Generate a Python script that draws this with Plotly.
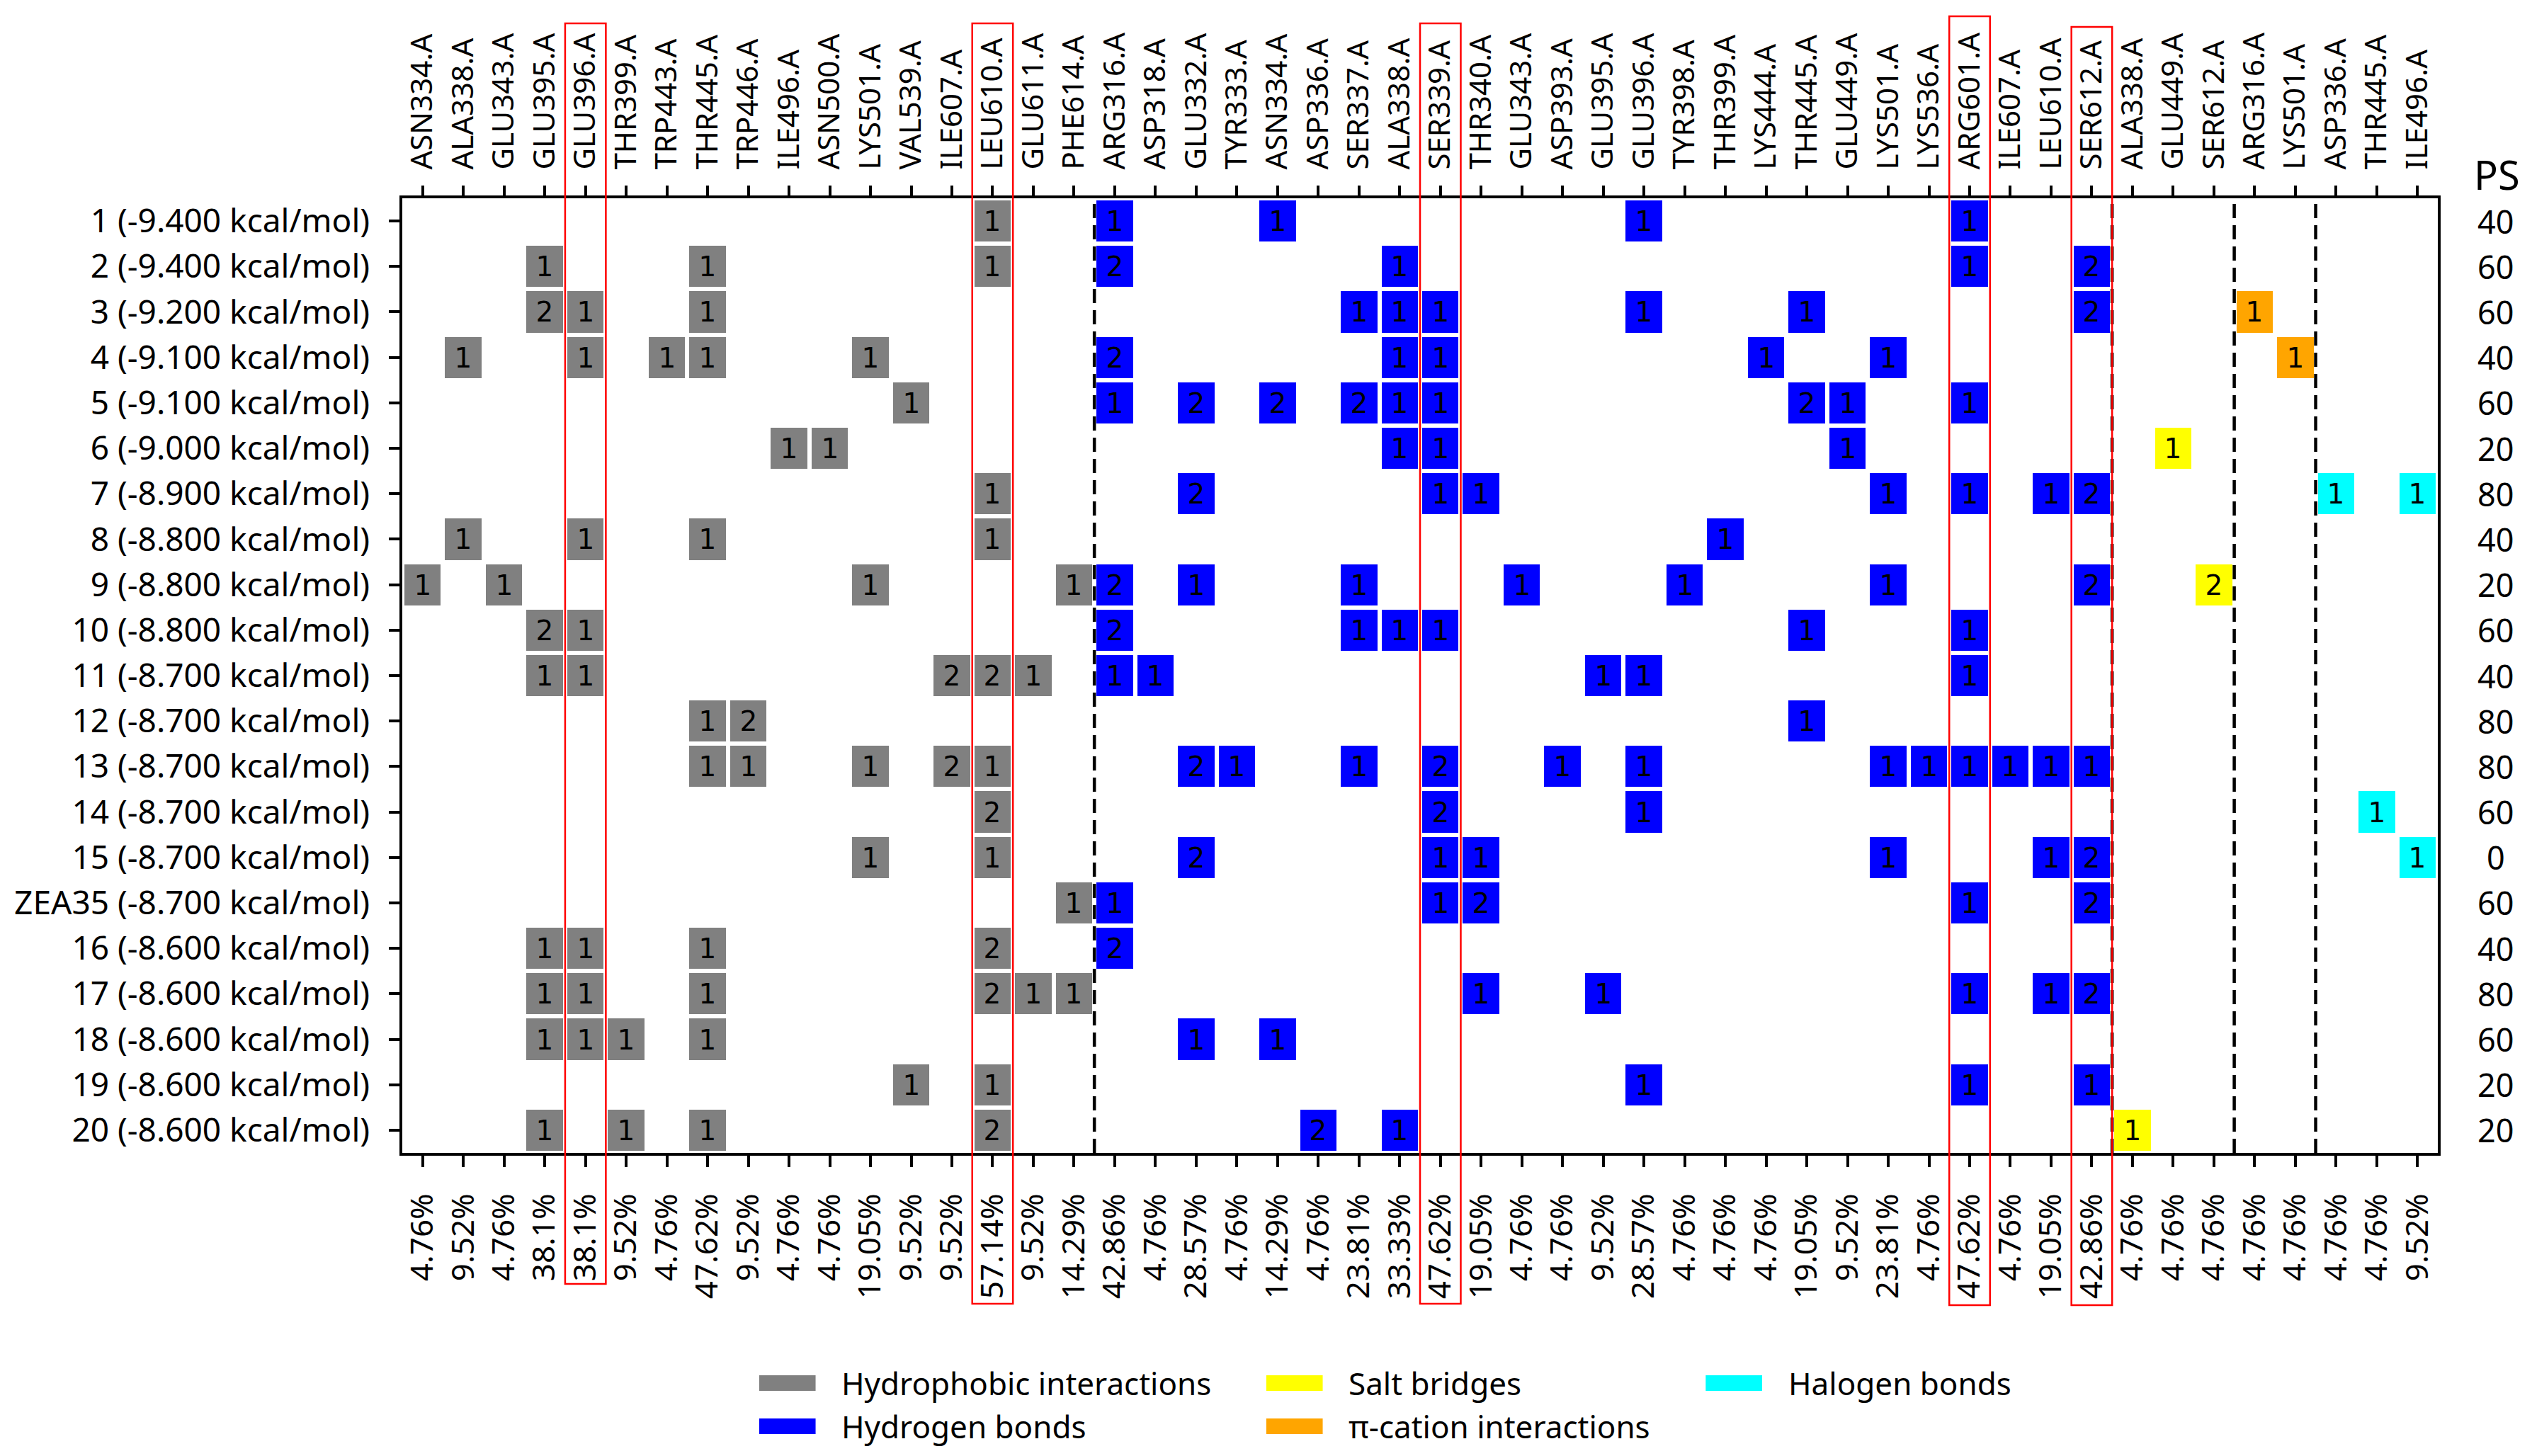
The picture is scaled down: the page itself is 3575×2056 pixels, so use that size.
import plotly.graph_objects as go

# residues per interaction type (column labels)
hydrophobic_res = ["ASN334.A", "ALA338.A", "GLU343.A", "GLU395.A", "GLU396.A", "THR399.A",
                   "TRP443.A", "THR445.A", "TRP446.A", "ILE496.A", "ASN500.A", "LYS501.A",
                   "VAL539.A", "ILE607.A", "LEU610.A", "GLU611.A", "PHE614.A"]
hbond_res = ["ARG316.A", "ASP318.A", "GLU332.A", "TYR333.A", "ASN334.A", "ASP336.A", "SER337.A",
             "ALA338.A", "SER339.A", "THR340.A", "GLU343.A", "ASP393.A", "GLU395.A", "GLU396.A",
             "TYR398.A", "THR399.A", "LYS444.A", "THR445.A", "GLU449.A", "LYS501.A", "LYS536.A",
             "ARG601.A", "ILE607.A", "LEU610.A", "SER612.A"]
saltbridge_res = ["ALA338.A", "GLU449.A", "SER612.A"]
pication_res = ["ARG316.A", "LYS501.A"]
halogen_res = ["ASP336.A", "THR445.A", "ILE496.A"]

# ligands (rows)
ligands = ["1", "2", "3", "4", "5", "6", "7", "8", "9", "10", "11", "12", "13", "14", "15",
           "ZEA35", "16", "17", "18", "19", "20"]
energies = [-9.4, -9.4, -9.2, -9.1, -9.1, -9.0, -8.9, -8.8, -8.8, -8.8, -8.7, -8.7, -8.7, -8.7,
            -8.7, -8.7, -8.6, -8.6, -8.6, -8.6, -8.6]
ps_values = [40, 60, 60, 40, 60, 20, 80, 40, 20, 60, 40, 80, 80, 60, 0, 60, 40, 80, 60, 20, 20]

# frequency of each residue (bottom labels)
hydrophobic_pct = ["4.76%", "9.52%", "4.76%", "38.1%", "38.1%", "9.52%", "4.76%", "47.62%", "9.52%",
                   "4.76%", "4.76%", "19.05%", "9.52%", "9.52%", "57.14%", "9.52%", "14.29%"]
hbond_pct = ["42.86%", "4.76%", "28.57%", "4.76%", "14.29%", "4.76%", "23.81%", "33.33%", "47.62%",
             "19.05%", "4.76%", "4.76%", "9.52%", "28.57%", "4.76%", "4.76%", "4.76%", "19.05%",
             "9.52%", "23.81%", "4.76%", "47.62%", "4.76%", "19.05%", "42.86%"]
saltbridge_pct = ["4.76%", "4.76%", "4.76%"]
pication_pct = ["4.76%", "4.76%"]
halogen_pct = ["4.76%", "4.76%", "9.52%"]

# interaction counts, one row per ligand
hydrophobic = [
    [0, 0, 0, 0, 0, 0, 0, 0, 0, 0, 0, 0, 0, 0, 1, 0, 0],
    [0, 0, 0, 1, 0, 0, 0, 1, 0, 0, 0, 0, 0, 0, 1, 0, 0],
    [0, 0, 0, 2, 1, 0, 0, 1, 0, 0, 0, 0, 0, 0, 0, 0, 0],
    [0, 1, 0, 0, 1, 0, 1, 1, 0, 0, 0, 1, 0, 0, 0, 0, 0],
    [0, 0, 0, 0, 0, 0, 0, 0, 0, 0, 0, 0, 1, 0, 0, 0, 0],
    [0, 0, 0, 0, 0, 0, 0, 0, 0, 1, 1, 0, 0, 0, 0, 0, 0],
    [0, 0, 0, 0, 0, 0, 0, 0, 0, 0, 0, 0, 0, 0, 1, 0, 0],
    [0, 1, 0, 0, 1, 0, 0, 1, 0, 0, 0, 0, 0, 0, 1, 0, 0],
    [1, 0, 1, 0, 0, 0, 0, 0, 0, 0, 0, 1, 0, 0, 0, 0, 1],
    [0, 0, 0, 2, 1, 0, 0, 0, 0, 0, 0, 0, 0, 0, 0, 0, 0],
    [0, 0, 0, 1, 1, 0, 0, 0, 0, 0, 0, 0, 0, 2, 2, 1, 0],
    [0, 0, 0, 0, 0, 0, 0, 1, 2, 0, 0, 0, 0, 0, 0, 0, 0],
    [0, 0, 0, 0, 0, 0, 0, 1, 1, 0, 0, 1, 0, 2, 1, 0, 0],
    [0, 0, 0, 0, 0, 0, 0, 0, 0, 0, 0, 0, 0, 0, 2, 0, 0],
    [0, 0, 0, 0, 0, 0, 0, 0, 0, 0, 0, 1, 0, 0, 1, 0, 0],
    [0, 0, 0, 0, 0, 0, 0, 0, 0, 0, 0, 0, 0, 0, 0, 0, 1],
    [0, 0, 0, 1, 1, 0, 0, 1, 0, 0, 0, 0, 0, 0, 2, 0, 0],
    [0, 0, 0, 1, 1, 0, 0, 1, 0, 0, 0, 0, 0, 0, 2, 1, 1],
    [0, 0, 0, 1, 1, 1, 0, 1, 0, 0, 0, 0, 0, 0, 0, 0, 0],
    [0, 0, 0, 0, 0, 0, 0, 0, 0, 0, 0, 0, 1, 0, 1, 0, 0],
    [0, 0, 0, 1, 0, 1, 0, 1, 0, 0, 0, 0, 0, 0, 2, 0, 0],
]
hbond = [
    [1, 0, 0, 0, 1, 0, 0, 0, 0, 0, 0, 0, 0, 1, 0, 0, 0, 0, 0, 0, 0, 1, 0, 0, 0],
    [2, 0, 0, 0, 0, 0, 0, 1, 0, 0, 0, 0, 0, 0, 0, 0, 0, 0, 0, 0, 0, 1, 0, 0, 2],
    [0, 0, 0, 0, 0, 0, 1, 1, 1, 0, 0, 0, 0, 1, 0, 0, 0, 1, 0, 0, 0, 0, 0, 0, 2],
    [2, 0, 0, 0, 0, 0, 0, 1, 1, 0, 0, 0, 0, 0, 0, 0, 1, 0, 0, 1, 0, 0, 0, 0, 0],
    [1, 0, 2, 0, 2, 0, 2, 1, 1, 0, 0, 0, 0, 0, 0, 0, 0, 2, 1, 0, 0, 1, 0, 0, 0],
    [0, 0, 0, 0, 0, 0, 0, 1, 1, 0, 0, 0, 0, 0, 0, 0, 0, 0, 1, 0, 0, 0, 0, 0, 0],
    [0, 0, 2, 0, 0, 0, 0, 0, 1, 1, 0, 0, 0, 0, 0, 0, 0, 0, 0, 1, 0, 1, 0, 1, 2],
    [0, 0, 0, 0, 0, 0, 0, 0, 0, 0, 0, 0, 0, 0, 0, 1, 0, 0, 0, 0, 0, 0, 0, 0, 0],
    [2, 0, 1, 0, 0, 0, 1, 0, 0, 0, 1, 0, 0, 0, 1, 0, 0, 0, 0, 1, 0, 0, 0, 0, 2],
    [2, 0, 0, 0, 0, 0, 1, 1, 1, 0, 0, 0, 0, 0, 0, 0, 0, 1, 0, 0, 0, 1, 0, 0, 0],
    [1, 1, 0, 0, 0, 0, 0, 0, 0, 0, 0, 0, 1, 1, 0, 0, 0, 0, 0, 0, 0, 1, 0, 0, 0],
    [0, 0, 0, 0, 0, 0, 0, 0, 0, 0, 0, 0, 0, 0, 0, 0, 0, 1, 0, 0, 0, 0, 0, 0, 0],
    [0, 0, 2, 1, 0, 0, 1, 0, 2, 0, 0, 1, 0, 1, 0, 0, 0, 0, 0, 1, 1, 1, 1, 1, 1],
    [0, 0, 0, 0, 0, 0, 0, 0, 2, 0, 0, 0, 0, 1, 0, 0, 0, 0, 0, 0, 0, 0, 0, 0, 0],
    [0, 0, 2, 0, 0, 0, 0, 0, 1, 1, 0, 0, 0, 0, 0, 0, 0, 0, 0, 1, 0, 0, 0, 1, 2],
    [1, 0, 0, 0, 0, 0, 0, 0, 1, 2, 0, 0, 0, 0, 0, 0, 0, 0, 0, 0, 0, 1, 0, 0, 2],
    [2, 0, 0, 0, 0, 0, 0, 0, 0, 0, 0, 0, 0, 0, 0, 0, 0, 0, 0, 0, 0, 0, 0, 0, 0],
    [0, 0, 0, 0, 0, 0, 0, 0, 0, 1, 0, 0, 1, 0, 0, 0, 0, 0, 0, 0, 0, 1, 0, 1, 2],
    [0, 0, 1, 0, 1, 0, 0, 0, 0, 0, 0, 0, 0, 0, 0, 0, 0, 0, 0, 0, 0, 0, 0, 0, 0],
    [0, 0, 0, 0, 0, 0, 0, 0, 0, 0, 0, 0, 0, 1, 0, 0, 0, 0, 0, 0, 0, 1, 0, 0, 1],
    [0, 0, 0, 0, 0, 2, 0, 1, 0, 0, 0, 0, 0, 0, 0, 0, 0, 0, 0, 0, 0, 0, 0, 0, 0],
]
saltbridge = [[0, 0, 0]] * 5 + [[0, 1, 0]] + [[0, 0, 0]] * 2 + [[0, 0, 2]] + [[0, 0, 0]] * 11 + [[1, 0, 0]]
pication = [[0, 0]] * 2 + [[1, 0], [0, 1]] + [[0, 0]] * 17
halogen = [[0, 0, 0]] * 6 + [[1, 0, 1]] + [[0, 0, 0]] * 6 + [[0, 1, 0], [0, 0, 1]] + [[0, 0, 0]] * 6

groups = [
    ("Hydrophobic interactions", hydrophobic_res, hydrophobic_pct, hydrophobic, "#808080"),
    ("Hydrogen bonds", hbond_res, hbond_pct, hbond, "#0000ff"),
    ("Salt bridges", saltbridge_res, saltbridge_pct, saltbridge, "#ffff00"),
    ("π-cation interactions", pication_res, pication_pct, pication, "#ffa500"),
    ("Halogen bonds", halogen_res, halogen_pct, halogen, "#00ffff"),
]

# highlighted residues (global column, box top px, box bottom px)
highlights = [(4, 33, 1813), (14, 33, 1841), (25, 33, 1841), (38, 23, 1843), (41, 38, 1843)]

FONT = "Noto Sans"
CELL_FONT = "DejaVu Sans"

# page pixels; the page body keeps an 8px margin round the figure
OFF = 8
PAGE_W, PAGE_H = 3575, 2056
W, H = PAGE_W - 2 * OFF, PAGE_H - 2 * OFF
LEFT, RIGHT, TOP, BOTTOM = 556, 3442, 280, 1628
ML, MT = LEFT - OFF, TOP - OFF
MR, MB = W - (RIGHT - OFF), H - (BOTTOM - OFF)
PW, PH = RIGHT - LEFT, BOTTOM - TOP


def px_x(px):
    return (px - LEFT) / PW


def px_y(py):
    return (BOTTOM - py) / PH


# one grid for all residues: z = interaction type, text = count
all_res, all_pct, bounds = [], [], []
for name, res, pct, counts, color in groups:
    all_res += res
    all_pct += pct
    bounds.append(len(all_res) - 0.5)
n = len(all_res)

z, txt = [], []
for r in range(len(ligands)):
    zr, tr = [], []
    for g, (name, res, pct, counts, color) in enumerate(groups):
        for c in counts[r]:
            zr.append(g if c else None)
            tr.append(str(c) if c else "")
    z.append(zr)
    txt.append(tr)

ng = len(groups)
colorscale = [[g / (ng - 1), groups[g][4]] for g in range(ng)]

fig = go.Figure()
fig.add_trace(go.Heatmap(
    x=list(range(n)), y=list(range(len(ligands))), z=z, text=txt, texttemplate="%{text}",
    textfont=dict(family=CELL_FONT, size=39, color="black"),
    colorscale=colorscale, zmin=0, zmax=ng - 1, showscale=False,
    xgap=6, ygap=6, hoverongaps=False))
fig.add_trace(go.Scatter(x=[None], y=[None], xaxis="x2", showlegend=False))

# group separators
for b in bounds[:-1]:
    fig.add_shape(type="line", xref="x", yref="paper", x0=b, x1=b, y0=0, y1=1,
                  line=dict(color="black", width=4.5, dash="20px,10px"))

# red boxes round the key residues
for col, top, bottom in highlights:
    fig.add_shape(type="rect", xref="x", yref="paper", x0=col - 0.5, x1=col + 0.5,
                  y0=px_y(bottom), y1=px_y(top), line=dict(color="#ff0000", width=2.5))

# PS column
for i, v in enumerate(ps_values):
    fig.add_annotation(x=px_x(3524), xref="paper", y=i, yref="y", text=str(v), showarrow=False,
                       font=dict(family=FONT, size=45, color="black"), xanchor="center")
fig.add_annotation(x=px_x(3526), xref="paper", y=px_y(246), yref="paper", text="PS",
                   showarrow=False, font=dict(family=FONT, size=56, color="black"),
                   xanchor="center", yanchor="middle")

# legend, three columns
legend_pos = [(1062, 1953), (1062, 2014), (1781, 1953), (1781, 2014), (2404, 1953)]
for (name, res, pct, counts, color), (lx, ly) in zip(groups, legend_pos):
    fig.add_shape(type="rect", xref="paper", yref="paper", x0=px_x(lx), x1=px_x(lx + 80),
                  y0=px_y(ly + 11), y1=px_y(ly - 11), fillcolor=color, line=dict(width=0))
    fig.add_annotation(x=px_x(lx + 115), xref="paper", y=px_y(ly), yref="paper", text=name,
                       showarrow=False, xanchor="left", yanchor="middle",
                       font=dict(family=FONT, size=44, color="black"))

row_labels = [f"{l} ({e:.3f} kcal/mol)" for l, e in zip(ligands, energies)]

fig.update_layout(
    width=W, height=H, autosize=False,
    margin=dict(l=ML, r=MR, t=MT, b=MB),
    paper_bgcolor="white", plot_bgcolor="white", showlegend=False,
    xaxis=dict(range=[-0.5, n - 0.5], tickmode="array", tickvals=list(range(n)), ticktext=all_pct,
               tickangle=-90, ticks="outside", ticklen=16, tickwidth=3.5, tickcolor="black",
               showline=True, linecolor="black", linewidth=3.5, mirror=True, showgrid=False,
               zeroline=False, ticklabelstandoff=20,
               tickfont=dict(family=FONT, size=44, color="black")),
    xaxis2=dict(range=[-0.5, n - 0.5], overlaying="x", side="top", tickmode="array",
                tickvals=list(range(n)), ticktext=all_res, tickangle=-90, ticks="outside",
                ticklen=17, tickwidth=3.5, tickcolor="black", showline=False, showgrid=False,
                zeroline=False, ticklabelstandoff=14,
                tickfont=dict(family=FONT, size=42, color="black")),
    yaxis=dict(range=[len(ligands) - 0.5, -0.5], tickmode="array", tickvals=list(range(len(ligands))),
               ticktext=row_labels, ticks="outside", ticklen=15, tickwidth=3.5, tickcolor="black",
               showline=True, linecolor="black", linewidth=3.5, mirror=True, showgrid=False,
               zeroline=False, ticklabelstandoff=18,
               tickfont=dict(family=FONT, size=46, color="black")),
)

fig.write_html("out.html")
